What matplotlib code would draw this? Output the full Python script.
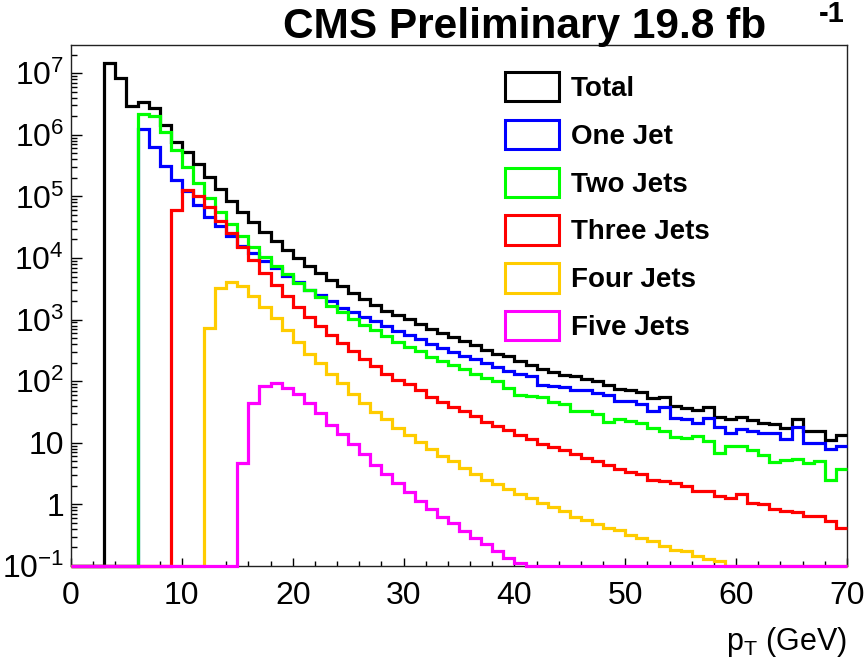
import numpy as np
import matplotlib
matplotlib.use("Agg")
import matplotlib.pyplot as plt
from matplotlib.patches import Patch
from matplotlib.ticker import MultipleLocator, LogLocator, FuncFormatter, NullFormatter

plt.rcParams['font.family'] = ['Liberation Sans', 'DejaVu Sans']
plt.rcParams['mathtext.fontset'] = 'custom'
plt.rcParams['mathtext.rm'] = 'Liberation Sans'
plt.rcParams['mathtext.it'] = 'Liberation Sans:italic'
plt.rcParams['mathtext.bf'] = 'Liberation Sans:bold'

# ---------------- data (events per 1 GeV bin, pT from 0 to 70 GeV) ----------------
bin_edges = np.arange(0, 71)

total = [0, 0, 0,
         1.45e7, 8.3e6, 2.9e6, 3.45e6, 2.7e6, 1.44e6, 7.7e5, 5.3e5, 3.4e5, 2.1e5,
         1.31e5, 8.4e4, 5.5e4, 3.8e4, 2.6e4, 1.9e4, 1.36e4, 1.0e4, 7.4e3, 5.65e3,
         4.4e3, 3.45e3, 2.67e3, 2.13e3, 1.75e3, 1.4e3, 1.18e3, 1.03e3, 861, 705,
         615, 524, 446, 390, 326, 280, 261, 211, 186, 158,
         140, 128, 120, 109, 100, 87, 74, 73, 66, 54,
         56, 39.5, 37, 34, 38.5, 26.5, 24.6, 26.5, 23.4, 21.1,
         19.9, 17.5, 23.9, 15.5, 15.5, 11.3, 13.2]

one_jet = [0, 0, 0, 0, 0, 0,
           1.23e6, 6.3e5, 3.1e5, 1.87e5, 1.2e5, 7.3e4, 4.7e4,
           3.26e4, 2.3e4, 1.55e4, 1.2e4, 9.0e3, 6.8e3, 5.1e3, 4.1e3, 3.07e3, 2.5e3,
           1.98e3, 1.55e3, 1.31e3, 1.1e3, 960, 780, 647, 560, 480, 400,
           347, 300, 261, 230, 195, 172, 145, 133, 120, 88,
           85, 81, 73, 71, 65, 59, 47.5, 47.5, 42, 32.7,
           38.4, 25.5, 23.9, 20.6, 25.5, 18.2, 14.2, 16.5, 15.5, 14.2,
           14.2, 11.6, 18.2, 9.8, 9.8, 8.0, 8.9]

two_jets = [0, 0, 0, 0, 0, 0,
            2.2e6, 2.0e6, 1.12e6, 5.7e5, 3.05e5, 1.64e5, 9.4e4,
            5.5e4, 3.5e4, 2.24e4, 1.52e4, 1.05e4, 7.3e3, 5.4e3, 3.9e3, 3.03e3, 2.3e3,
            1.66e3, 1.32e3, 1.04e3, 815, 690, 545, 438, 360, 306, 245,
            213, 182, 157, 130, 111, 100, 78, 59, 57, 56,
            46, 43, 33, 33, 29, 21.5, 23.9, 22.5, 21.2, 17.5,
            15.5, 12.5, 12.1, 12.9, 10.7, 6.9, 8.9, 8.9, 7.6, 6.25,
            4.9, 5.25, 5.5, 4.75, 5.1, 2.5, 3.8]

three_jets = [0, 0, 0, 0, 0, 0, 0, 0, 0,
              5.9e4, 1.25e5, 1.02e5, 6.7e4,
              4.0e4, 2.5e4, 1.5e4, 9.2e3, 5.8e3, 3.7e3, 2.4e3, 1.6e3, 1.1e3, 800,
              571, 419, 307, 231, 175, 133, 105, 90, 73, 56,
              46.5, 38, 32.7, 27, 22, 19, 16.2, 13.2, 11.5, 9.6,
              8.5, 7.5, 6.7, 5.7, 5.06, 4.4, 3.75, 3.4, 3.1, 2.5,
              2.4, 2.2, 1.99, 1.68, 1.68, 1.35, 1.27, 1.48, 1.07, 1.0,
              0.83, 0.78, 0.75, 0.65, 0.65, 0.54, 0.41]

four_jets = [0, 0, 0, 0, 0, 0, 0, 0, 0, 0, 0, 0,
             733,
             3.27e3, 4.1e3, 3.5e3, 2.39e3, 1.62e3, 1.07e3, 673, 430, 281, 194,
             133, 92, 63, 44.6, 31.5, 24, 17.7, 13.5, 10.2, 7.8,
             6.2, 5.0, 3.9, 3.1, 2.5, 2.12, 1.8, 1.46, 1.29, 1.07,
             0.92, 0.78, 0.63, 0.56, 0.48, 0.42, 0.38, 0.32, 0.285, 0.25,
             0.215, 0.185, 0.176, 0.143, 0.132, 0.121, 0, 0, 0, 0,
             0, 0, 0, 0, 0, 0, 0]

five_jets = [0, 0, 0, 0, 0, 0, 0, 0, 0, 0, 0, 0, 0, 0, 0,
             4.75, 43.5, 83, 93, 78, 61, 43.5, 30,
             19.2, 13.7, 9.4, 6.5, 4.3, 3.1, 2.2, 1.6, 1.14, 0.84,
             0.63, 0.5, 0.37, 0.29, 0.226, 0.176, 0.137, 0.112, 0, 0,
             0, 0, 0, 0, 0, 0, 0, 0, 0, 0,
             0, 0, 0, 0, 0, 0, 0, 0, 0, 0,
             0, 0, 0, 0, 0, 0, 0]

labels = ["Total", "One Jet", "Two Jets", "Three Jets", "Four Jets", "Five Jets"]
series = [total, one_jet, two_jets, three_jets, four_jets, five_jets]
colors = ["#000000", "#0000ff", "#00ff00", "#ff0000", "#ffcc00", "#ff00ff"]

title_main = "CMS Preliminary 19.8 fb"
title_sup = "-1"
xlabel = "p$_{\\mathrm{T}}$ (GeV)"

# ---------------- figure ----------------
W, H = 866, 667
fig = plt.figure(figsize=(W / 100, H / 100), dpi=100)
L, R, T, B = 71, 847, 45, 566
ax = fig.add_axes([L / W, 1 - B / H, (R - L) / W, (B - T) / H])

ymin = 0.1
for vals, col in zip(series, colors):
    v = np.asarray(vals, dtype=float)
    disp = np.where(v > 0, v, ymin)   # empty bins drawn on the axis floor like ROOT
    ax.stairs(disp, bin_edges, baseline=None, color=col, linewidth=2.3, clip_on=False,
              zorder=3)

ax.set_xlim(0, 70)
ax.set_yscale('log')
ax.set_ylim(ymin, 10 ** 7.457)

ax.xaxis.set_major_locator(MultipleLocator(10))
ax.xaxis.set_minor_locator(MultipleLocator(2))
ax.yaxis.set_major_locator(LogLocator(base=10, numticks=20))
ax.yaxis.set_minor_locator(LogLocator(base=10, subs=np.arange(2, 10), numticks=20))
ax.yaxis.set_minor_formatter(NullFormatter())


def yfmt(v, pos):
    e = int(round(np.log10(v)))
    if e == 0:
        return "1"
    if e == 1:
        return "10"
    return "10$^{%d}$" % e


ax.yaxis.set_major_formatter(FuncFormatter(yfmt))

ax.tick_params(axis='both', which='both', direction='in', top=False, right=False,
               width=1.0, labelsize=23, colors='black')
ax.tick_params(axis='y', which='major', length=8, pad=5)
ax.tick_params(axis='y', which='minor', length=4)
ax.tick_params(axis='x', which='major', length=6, pad=11)
ax.tick_params(axis='x', which='minor', length=3.3)

for s in ax.spines.values():
    s.set_linewidth(1.0)
    s.set_color('#222222')

ax.set_xlabel(xlabel, fontsize=22, loc='right', labelpad=10)

fig.text(283 / W, 1 - 38 / H, title_main, fontsize=30.5, fontweight='bold',
         ha='left', va='baseline')
fig.text(845 / W, 1 - 22 / H, title_sup, fontsize=21, fontweight='bold',
         ha='right', va='baseline')

handles = [Patch(facecolor='none', edgecolor=c, linewidth=2.2) for c in colors]
leg = fig.legend(handles, labels, loc='upper left',
                 bbox_to_anchor=(505 / W, 1 - 72 / H), bbox_transform=fig.transFigure,
                 frameon=False, prop={'weight': 'bold', 'size': 20},
                 handlelength=1.95, handleheight=1.25, labelspacing=0.64,
                 handletextpad=0.42, borderpad=0, borderaxespad=0)

fig.savefig("out.png", dpi=100)
